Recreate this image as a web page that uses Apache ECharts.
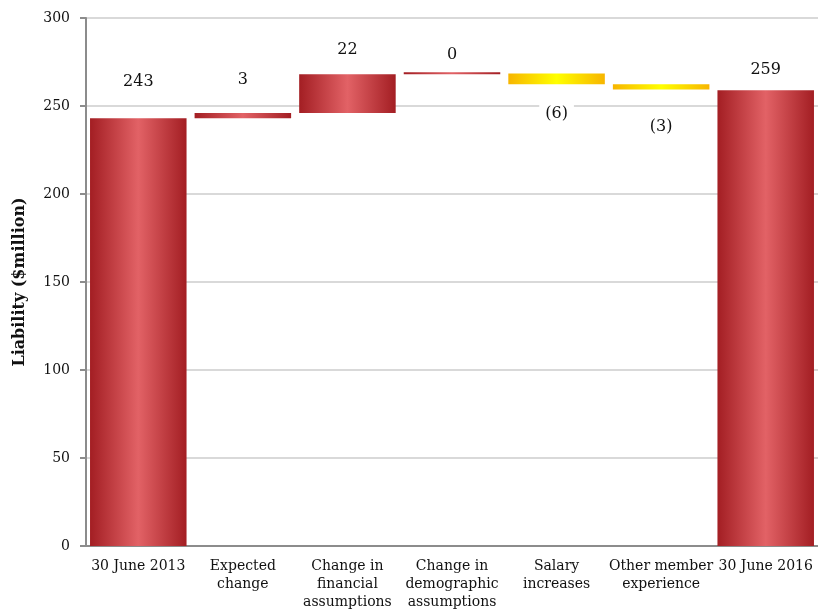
<!DOCTYPE html>
<html>
<head>
<meta charset="utf-8">
<script src="https://cdn.jsdelivr.net/npm/echarts@6/dist/echarts.min.js"></script>
<style>
  html, body { margin: 0; padding: 0; background: #fff; }
  #main { width: 818px; height: 611px; }
</style>
</head>
<body>
<div id="main"></div>
<script>
// 类目
var categories = ['30 June 2013', 'Expected\nchange', 'Change in\nfinancial\nassumptions',
    'Change in\ndemographic\nassumptions', 'Salary\nincreases', 'Other member\nexperience', '30 June 2016'];
// 数值 (首尾为合计, 中间为变动)
var values = [243, 3, 22, 0.4, -6, -3, 259];
var valueLabels = ['243', '3', '22', '0', '(6)', '(3)', '259'];
var isTotal = [true, false, false, false, false, false, true];
var yTicks = [0, 50, 100, 150, 200, 250, 300];

var FONT = 'Georgia, "DejaVu Serif", serif';

function grad(edge, mid){
    return new echarts.graphic.LinearGradient(0, 0, 1, 0, [
        {offset: 0, color: edge},
        {offset: 0.5, color: mid},
        {offset: 1, color: edge}
    ]);
}
var redFill = grad('#a31e23', '#e26266');
var yellowFill = grad('#f7b500', '#ffff00');

// 瀑布图: 透明底座 + 可见部分
var base = [], shown = [];
var run = 0;
for(var i = 0; i < values.length; i++){
    var v = values[i];
    if(isTotal[i]){
        base.push(0);
        shown.push(v);
        run = v;
    }else if(v >= 0){
        base.push(run);
        shown.push(v);
        run += v;
    }else{
        run += v;
        base.push(run);
        shown.push(-v);
    }
}

// 标签离柱子的距离
var labelGap = [26, 23, 14, 7, 20, 27, 10];

var shownData = [];
for(var i = 0; i < shown.length; i++){
    var neg = values[i] < 0;
    shownData.push({
        value: shown[i],
        itemStyle: {color: neg ? yellowFill : redFill},
        label: {
            show: true,
            position: neg ? 'bottom' : 'top',
            distance: labelGap[i],
            formatter: valueLabels[i],
            backgroundColor: '#fff',
            padding: [2, 6]
        }
    });
}

var myChart = echarts.init(document.getElementById('main'));
myChart.setOption({
    animation: false,
    grid: {left: 86, right: -4, top: 18, bottom: 63, containLabel: false},
    xAxis: {
        type: 'category',
        data: categories,
        axisLine: {lineStyle: {color: '#8c8c8c', width: 2}},
        axisTick: {show: false},
        axisLabel: {
            interval: 0, color: '#111', fontFamily: FONT, fontSize: 14,
            lineHeight: 18, margin: 11
        }
    },
    yAxis: {
        type: 'value',
        min: 0, max: 300, interval: 50,
        name: 'Liability ($million)',
        nameLocation: 'middle',
        nameGap: 58,
        nameTextStyle: {fontFamily: FONT, fontSize: 16, fontWeight: 'bold', color: '#111'},
        axisLine: {show: true, lineStyle: {color: '#8c8c8c', width: 2}},
        axisTick: {show: true, length: 6, lineStyle: {color: '#8c8c8c', width: 2}},
        axisLabel: {
            color: '#111', fontFamily: FONT, fontSize: 14, margin: 16,
            formatter: function(v){ return yTicks.indexOf(v) >= 0 ? String(v) : ''; }
        },
        splitLine: {lineStyle: {color: '#d9d9d9', width: 2}}
    },
    series: [
        {
            type: 'bar', stack: 'w', data: base,
            itemStyle: {color: 'transparent'},
            barCategoryGap: '7.7%',
            silent: true
        },
        {
            type: 'bar', stack: 'w', data: shownData,
            barCategoryGap: '7.7%',
            barMinHeight: 2,
            label: {fontFamily: FONT, fontSize: 16, color: '#111'}
        }
    ]
});
</script>
</body>
</html>
